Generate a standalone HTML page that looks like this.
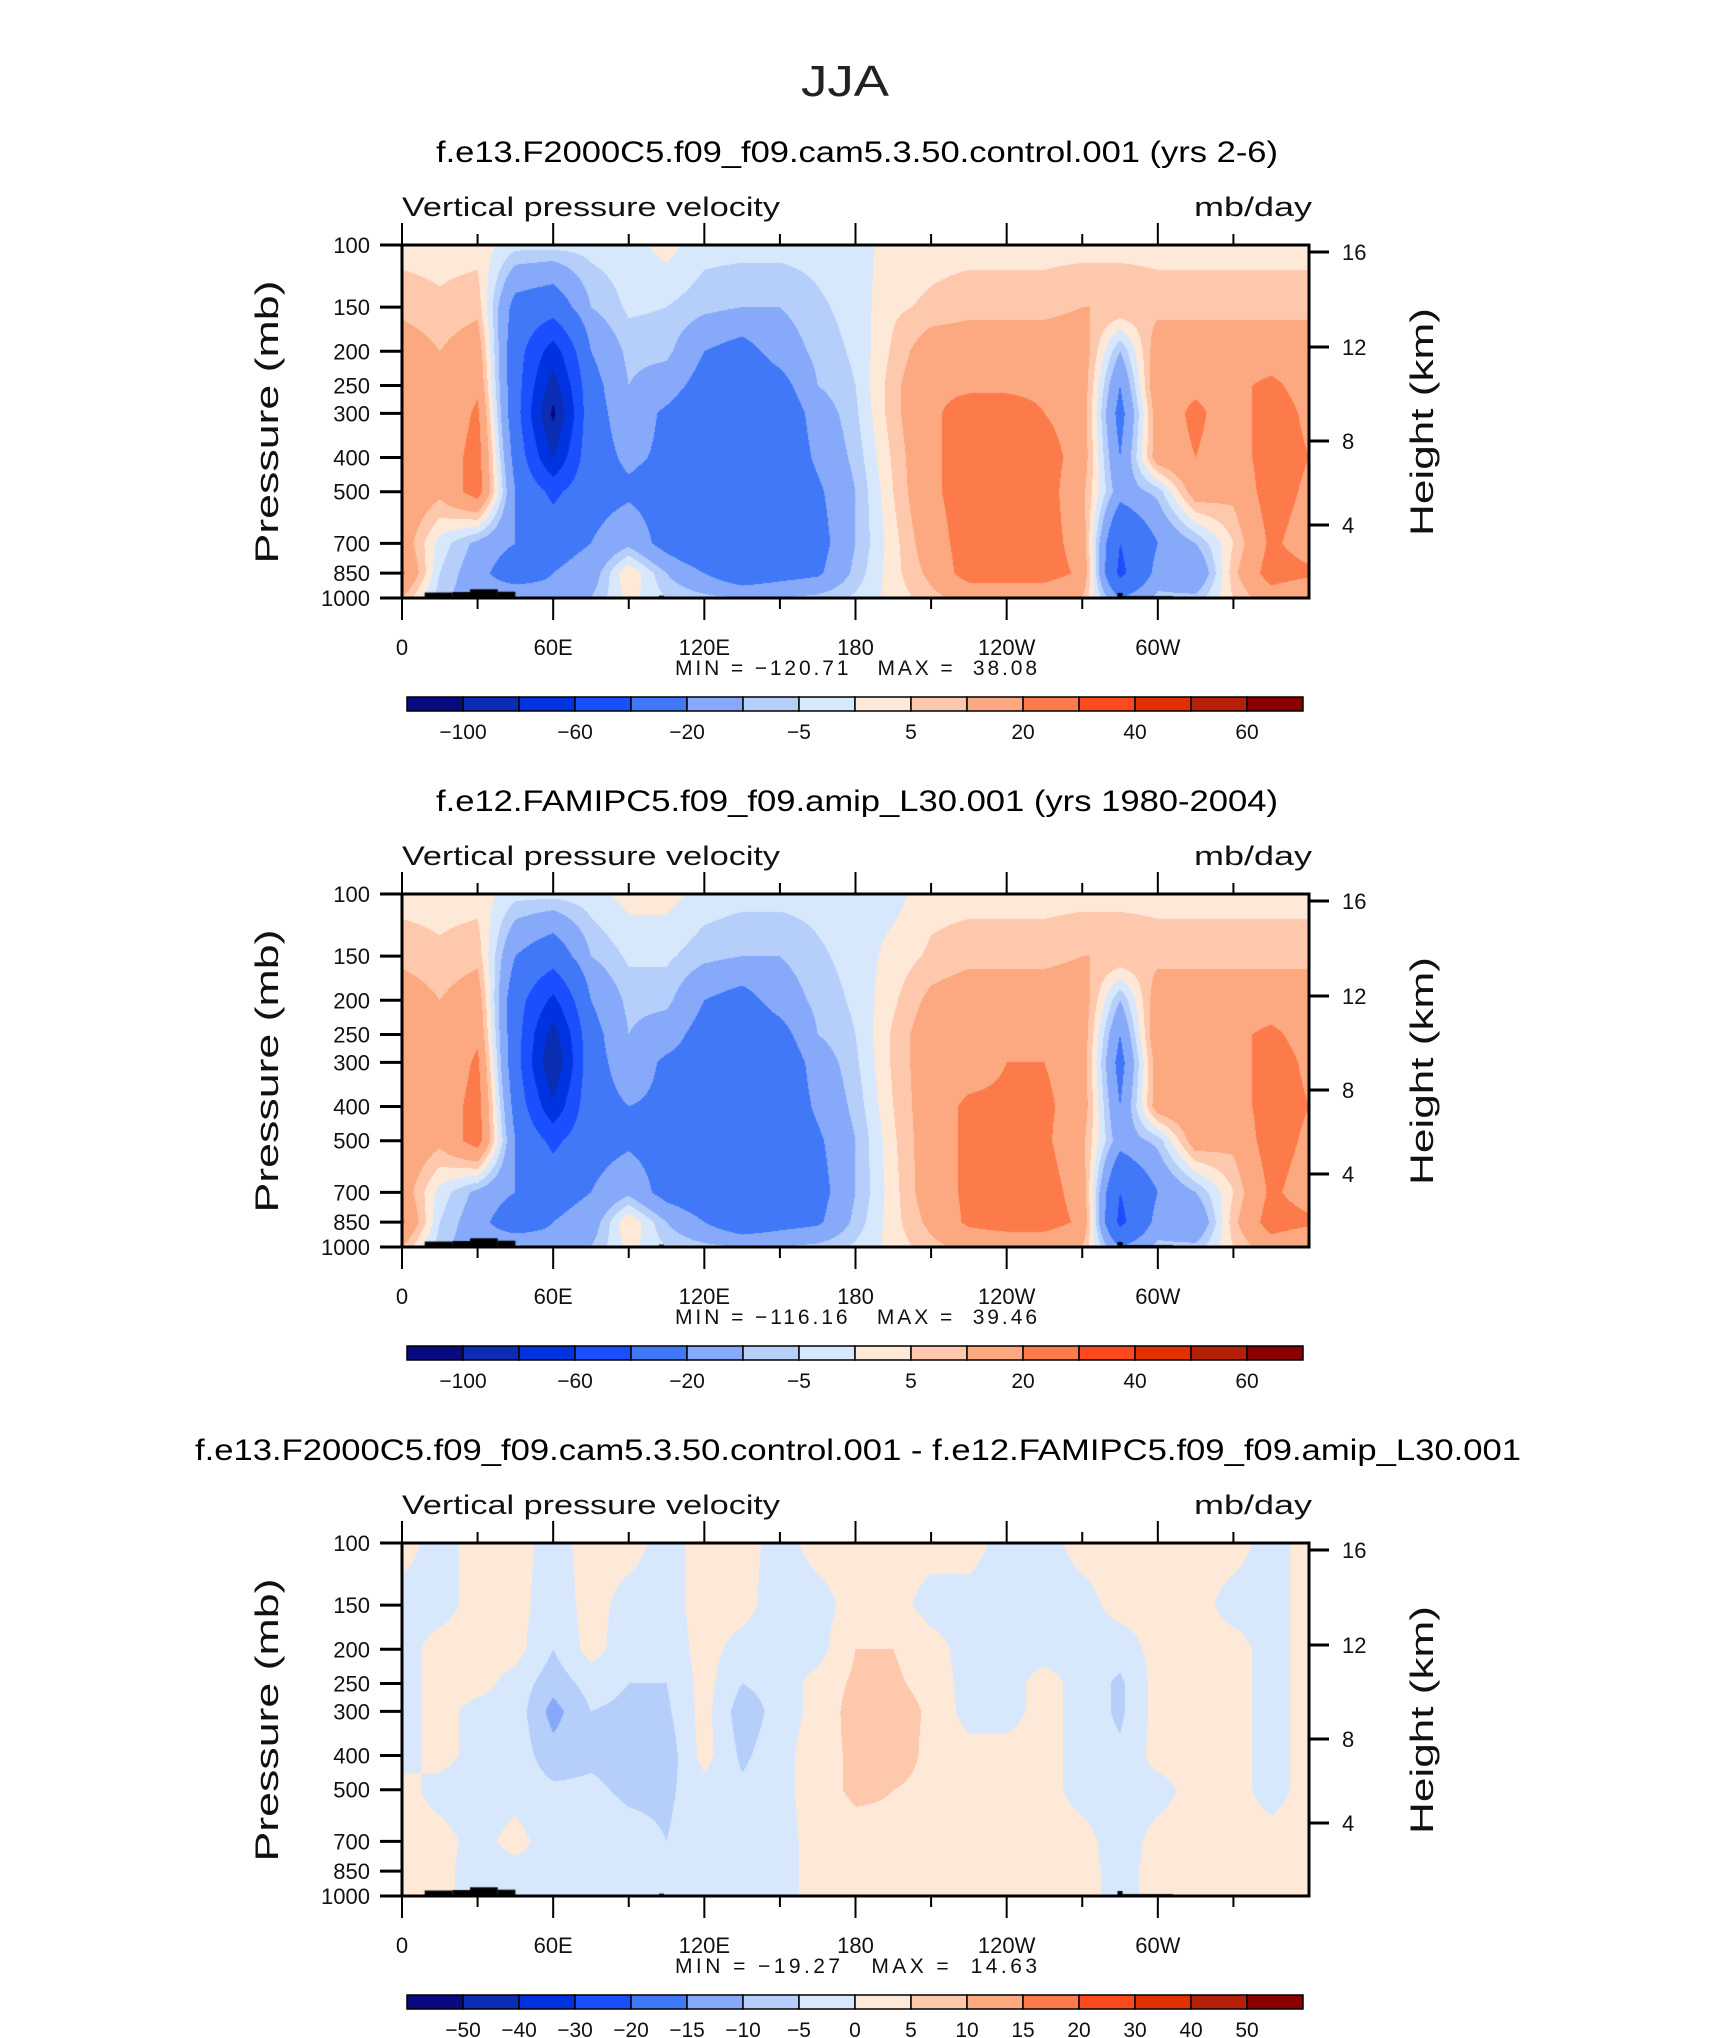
<!DOCTYPE html>
<html><head><meta charset="utf-8"><style>
html,body{margin:0;padding:0;background:#fff;}
#wrap{position:relative;width:1710px;height:2038px;overflow:hidden;}
canvas{position:absolute;}
svg{position:absolute;left:0;top:0;}
.pre{white-space:pre;}
</style></head><body>
<div id="wrap">
<canvas id="c0" width="907" height="353" style="left:402px;top:245px"></canvas>
<canvas id="c1" width="907" height="353" style="left:402px;top:894px"></canvas>
<canvas id="c2" width="907" height="353" style="left:402px;top:1543px"></canvas>
<svg id="svg" width="1710" height="2038" xmlns="http://www.w3.org/2000/svg"></svg>
</div>
<script>
const lons=[0,15,30,45,60,75,90,105,120,135,150,165,180,195,210,225,240,255,270,285,300,315,330,345,360];
const levels=[100,150,200,250,300,400,500,700,850,1000];
const fieldA=[
[3,3,3,-3,-3,-3,-2,2,-3,-3,-3,-3,-2,2,3,3,3,3,3,3,3,3,3,3,3],
[8,6,8,-25,-30,-10,-4,-5,-8,-10,-10,-6,-3,4,6,8,8,8,10,10,8,8,8,8,8],
[15,10,15,-30,-70,-20,-8,-8,-20,-25,-15,-8,-4,6,15,15,15,15,15,-10,15,15,15,15,15],
[16,10,18,-30,-90,-25,-10,-15,-25,-30,-25,-10,-5,8,18,18,18,18,15,-20,18,18,18,22,16],
[18,10,22,-30,-105,-25,-14,-22,-30,-35,-30,-15,-6,8,18,25,25,20,15,-25,15,22,15,25,18],
[20,12,25,-25,-80,-25,-18,-22,-30,-35,-30,-18,-8,6,18,25,25,25,15,-20,15,20,15,25,20],
[18,12,25,-20,-45,-25,-22,-25,-35,-40,-30,-22,-10,5,18,25,25,25,12,-15,-8,15,12,25,18],
[15,-2,-12,-20,-25,-20,-12,-25,-35,-40,-28,-25,-10,3,15,25,25,25,15,-40,-20,-10,5,22,15],
[22,-5,-15,-30,-20,-15,5,-10,-20,-30,-25,-22,-8,3,12,25,25,25,18,-45,-15,-20,8,25,22],
[10,-8,-15,-8,-15,-10,2,-5,-8,-10,-10,-8,-4,2,8,12,12,12,10,-20,-8,-8,5,15,10]];
const fieldB=[
[3,3,3,-3,-3,-2,2,2,-2,-3,-3,-3,-2,-2,3,3,3,3,3,3,3,3,3,3,3],
[8,6,8,-20,-30,-10,-4,-4,-8,-10,-10,-6,-3,2,6,8,8,8,10,10,8,8,8,8,8],
[15,10,15,-30,-65,-20,-8,-8,-20,-25,-15,-8,-4,4,12,15,15,15,15,-10,15,15,15,15,15],
[16,10,18,-30,-90,-25,-10,-15,-25,-30,-25,-10,-5,6,15,15,15,15,15,-20,18,18,18,22,16],
[18,10,22,-30,-100,-25,-14,-22,-25,-35,-30,-15,-6,6,15,15,20,20,15,-25,15,18,15,25,18],
[20,12,25,-25,-75,-25,-20,-22,-25,-35,-30,-18,-8,5,15,22,22,22,15,-20,15,18,15,25,20],
[18,12,25,-20,-45,-25,-22,-25,-30,-40,-30,-22,-10,4,15,22,22,22,12,-15,-8,15,12,25,18],
[15,-2,-12,-20,-25,-20,-12,-25,-30,-40,-28,-25,-10,3,15,22,25,25,15,-40,-20,-10,5,22,15],
[22,-5,-15,-30,-20,-15,5,-10,-20,-30,-25,-22,-8,3,12,22,25,25,18,-45,-15,-20,8,25,22],
[10,-8,-15,-8,-15,-10,2,-5,-8,-10,-10,-8,-4,2,8,12,12,12,10,-20,-8,-8,5,15,10]];
const fieldD=[
[2,-2,2,2,-2,2,2,-2,2,2,-2,2,2,2,2,2,-2,-2,2,2,2,2,2,-2,2],
[-2,-2,2,2,-3,2,-2,-2,2,2,-3,-2,2,2,-2,-2,-2,-2,-2,2,2,2,-2,-2,2],
[-2,2,2,2,-5,2,-3,-3,2,-2,-3,-2,5,5,2,-2,-2,-2,-2,-3,2,2,2,-2,2],
[-2,2,2,-2,-8,-3,-5,-5,2,-5,-3,2,6,6,3,-2,-2,2,-2,-6,2,2,2,-2,2],
[-2,2,-2,-2,-12,-5,-6,-6,2,-8,-3,2,7,8,4,-2,-2,2,-2,-6,2,2,2,-2,2],
[-2,2,-2,-2,-8,-6,-7,-8,2,-6,-2,3,6,9,3,2,2,2,-2,-4,2,2,2,-2,2],
[2,-2,-3,-2,-4,-4,-6,-6,-2,-4,-2,3,6,5,3,2,2,2,-2,-3,-2,2,2,-2,2],
[2,2,-2,2,-3,-2,-3,-5,-2,-3,-2,2,3,4,3,2,2,2,2,-3,2,2,2,2,2],
[2,2,-3,-2,-2,-2,-2,-3,-2,-2,-2,2,2,2,3,2,2,2,2,-2,2,2,2,2,2],
[2,2,-3,-2,-2,-2,-2,-2,-2,-2,-2,2,2,2,2,2,2,2,2,-2,2,2,2,2,2]];
const boundsAB=[-100,-80,-60,-40,-20,-10,-5,0,5,10,20,30,40,50,60];
const labelsAB=["-100","-60","-20","-5","5","20","40","60"];
const labelIdxAB=[0,2,4,6,8,10,12,14];
const boundsD=[-50,-40,-30,-20,-15,-10,-5,0,5,10,15,20,30,40,50];
const labelsD=["-50","-40","-30","-20","-15","-10","-5","0","5","10","15","20","30","40","50"];
const colors=["#0a0a80","#0a2db4","#0033e0","#1a4fff","#4178f8","#86a9fa","#b5cefa","#d7e8fd","#fee9d8","#fec8ad","#fca880","#fd7a4a","#fd4a1c","#e33000","#b72008","#8a0000"];
const presTicks=[100,150,200,250,300,400,500,700,850,1000];
const htTicks=[4,8,12,16];
const htY=[280,196,102,7];
const lonTicks=[0,60,120,180,240,300];
const lonLabels=["0","60E","120E","180","120W","60W"];
const topo=[[9,20,965],[20,27,962],[27,38,945],[38,45,960],[102,104,985],[284,286,968],[286,306,988]];
const titles=["f.e13.F2000C5.f09_f09.cam5.3.50.control.001 (yrs 2-6)","f.e12.FAMIPC5.f09_f09.amip_L30.001 (yrs 1980-2004)","f.e13.F2000C5.f09_f09.cam5.3.50.control.001 - f.e12.FAMIPC5.f09_f09.amip_L30.001"];
const minmax=["MIN = \u2212120.71   MAX =  38.08","MIN = \u2212116.16   MAX =  39.46","MIN = \u221219.27   MAX =  14.63"];

const X0=402,W=907,H=353;
const xs=l=>l/360*W;
const yp=p=>Math.log10(p/100)*H;
function colorFor(v,b){let i=0;while(i<b.length&&v>=b[i])i++;return colors[i];}
function sample(f,lon,p){
  let fi=lon/15;let i0=Math.min(Math.floor(fi),23);let tx=fi-i0;
  let lp=Math.log10(p);let j=0;while(j<levels.length-2&&Math.log10(levels[j+1])<lp)j++;
  let ty=(lp-Math.log10(levels[j]))/(Math.log10(levels[j+1])-Math.log10(levels[j]));
  ty=Math.max(0,Math.min(1,ty));
  const a=f[j][i0],b=f[j][i0+1],c=f[j+1][i0],d=f[j+1][i0+1];
  return a*(1-tx)*(1-ty)+b*tx*(1-ty)+c*(1-tx)*ty+d*tx*ty;
}
function drawField(id,f,b){
  const ctx=document.getElementById(id).getContext('2d');
  for(let y=0;y<H;y++){const p=100*Math.pow(10,(y+0.5)/H);
    for(let x=0;x<W;x+=1){ctx.fillStyle=colorFor(sample(f,(x+0.5)/W*360,p),b);ctx.fillRect(x,y,1,1);}}
  ctx.fillStyle='#000';
  topo.forEach(t=>{const y=yp(t[2]);ctx.fillRect(xs(t[0]),y,xs(t[1])-xs(t[0]),H-y);});
}
drawField('c0',fieldA,boundsAB);drawField('c1',fieldB,boundsAB);drawField('c2',fieldD,boundsD);

const svg=document.getElementById('svg');const NS='http://www.w3.org/2000/svg';
function el(tag,attrs,txt){const e=document.createElementNS(NS,tag);for(const k in attrs)e.setAttribute(k,attrs[k]);if(txt!==undefined)e.textContent=txt;svg.appendChild(e);return e;}
const F='Liberation Sans, DejaVu Sans, sans-serif';
let t=el('text',{x:845,y:96,'font-family':F,'font-size':44,'font-weight':'100','text-anchor':'middle',fill:'#222',textLength:88,lengthAdjust:'spacingAndGlyphs'},'JJA');


const offs=[0,649,1298];
offs.forEach((o,k)=>{
  const T=245+o;
  const tw=k==2?1326:842, tx=k==2?195:436;
  let e=el('text',{x:tx,y:162+o,'font-family':F,'font-size':30,fill:'#000',textLength:tw,lengthAdjust:'spacingAndGlyphs'},titles[k]);
  
  
  e=el('text',{x:402,y:216+o,'font-family':F,'font-size':27,fill:'#111',textLength:378,lengthAdjust:'spacingAndGlyphs'},'Vertical pressure velocity');
  
  
  e=el('text',{x:1312,y:216+o,'font-family':F,'font-size':27,fill:'#111','text-anchor':'end',textLength:118,lengthAdjust:'spacingAndGlyphs'},'mb/day');
  
  
  e=el('rect',{x:X0,y:T,width:W,height:H,fill:'none',stroke:'#000','stroke-width':3});
  
  
  for(let l=0;l<=330;l+=30){const x=X0+xs(l);const maj=l%60==0;
    el('line',{x1:x,y1:T+H,x2:x,y2:T+H+(maj?22:11),stroke:'#000','stroke-width':2});
    el('line',{x1:x,y1:T,x2:x,y2:T-(maj?22:11),stroke:'#000','stroke-width':2});}
  lonTicks.forEach((l,i)=>{e=el('text',{x:X0+xs(l),y:T+H+57,'font-family':F,'font-size':22,'text-anchor':'middle',fill:'#111'},lonLabels[i]);
    
    });
  presTicks.forEach(p=>{const y=T+yp(p);el('line',{x1:X0-22,y1:y,x2:X0,y2:y,stroke:'#000','stroke-width':3});
    e=el('text',{x:370,y:y+8,'font-family':F,'font-size':22,'text-anchor':'end',fill:'#111'},String(p));
    
    });
  htTicks.forEach((h,i)=>{const y=T+htY[i];el('line',{x1:X0+W,y1:y,x2:X0+W+20,y2:y,stroke:'#000','stroke-width':3});
    e=el('text',{x:1342,y:y+8,'font-family':F,'font-size':22,fill:'#111'},String(h));
    
    });
  e=el('text',{x:0,y:0,'font-family':F,'font-size':32,'text-anchor':'middle',fill:'#111',transform:`translate(278,${422+o}) rotate(-90)`,textLength:283,lengthAdjust:'spacingAndGlyphs'},'Pressure  (mb)');
  
  
  e=el('text',{x:0,y:0,'font-family':F,'font-size':32,'text-anchor':'middle',fill:'#111',transform:`translate(1433,${422+o}) rotate(-90)`,textLength:228,lengthAdjust:'spacingAndGlyphs'},'Height  (km)');
  
  
  e=el('text',{x:856,y:675+o,'font-family':F,'font-size':21,'text-anchor':'middle',fill:'#111',class:'pre',textLength:362,lengthAdjust:'spacing'},minmax[k]);
  
  
  const cw=896/16, cy=697+o;
  colors.forEach((c,i)=>{e=el('rect',{x:407+i*cw,y:cy,width:cw,height:14,fill:c,stroke:'#000','stroke-width':1.5});
    
    });
  const labs=k==2?labelsD:labelsAB;
  labs.forEach((s,i)=>{const bi=k==2?i:labelIdxAB[i];
    e=el('text',{x:407+(bi+1)*cw,y:739+o,'font-family':F,'font-size':21,'text-anchor':'middle',fill:'#111'},s.replace('-','\u2212'));
    
    });
});
</script>
</body></html>
